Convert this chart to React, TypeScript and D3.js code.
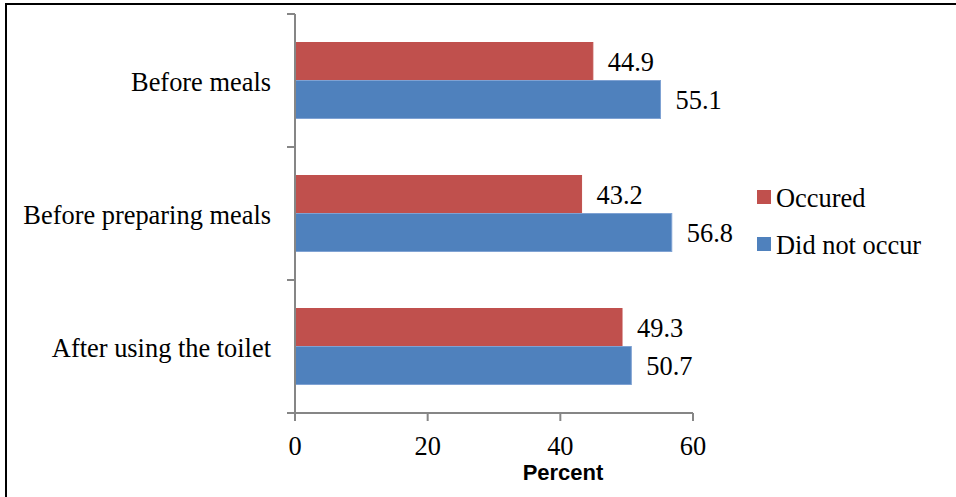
import React from "react";
import * as d3 from "d3";

const categories = ["Before meals", "Before preparing meals", "After using the toilet"];
const seriesNames = ["Occured", "Did not occur"];
const occured = [44.9, 43.2, 49.3];
const didNotOccur = [55.1, 56.8, 50.7];
const xTicks = [0, 20, 40, 60];
const colors = ["#C0504D", "#4F81BD"];
const strokes = ["#C0504D", "#7FA2D3"];

export default function App() {
  const W = 956, H = 497;
  const x = d3.scaleLinear().domain([0, 60]).range([295, 693]);
  const y = d3.scaleBand<string>().domain(categories).range([14, 413]).paddingInner(0).paddingOuter(0);
  const sub = d3.scaleBand<string>().domain(seriesNames).range([0, y.bandwidth()]).paddingInner(0).paddingOuter(0.75);
  const values = [occured, didNotOccur];
  const serif = "'Liberation Serif', 'Times New Roman', serif";
  const axisColor = "#868686";
  const fs = 26.4;
  const bandEdges = categories.map((c) => y(c) as number).concat([413]);

  return (
    <svg width={W} height={H} style={{ position: "fixed", left: 0, top: 0, background: "#fff" }}>
      <rect x={0} y={0} width={W} height={H} fill="#fff" />
      <rect x={6} y={4} width={W + 10} height={H + 10} fill="none" stroke="#000" strokeWidth={2} />
      {categories.map((c, i) =>
        seriesNames.map((s, j) => {
          const v = values[j][i];
          const by = (y(c) as number) + (sub(s) as number);
          const bh = sub.bandwidth();
          return (
            <g key={c + s}>
              <rect x={x(0)} y={by} width={x(v) - x(0)} height={bh} fill={colors[j]} stroke={strokes[j]} strokeWidth={1} />
              <text x={x(v) + 15} y={by + bh / 2 + 9} fontFamily={serif} fontSize={fs} fill="#000">
                {v.toFixed(1)}
              </text>
            </g>
          );
        })
      )}
      <line x1={x(0)} x2={x(0)} y1={14} y2={421} stroke={axisColor} strokeWidth={2} />
      {bandEdges.map((e, i) => (
        <line key={"yt" + i} x1={287} x2={x(0)} y1={e} y2={e} stroke={axisColor} strokeWidth={2} />
      ))}
      <line x1={287} x2={x(60)} y1={413} y2={413} stroke={axisColor} strokeWidth={2} />
      {xTicks.map((t) => (
        <g key={"xt" + t}>
          <line x1={x(t)} x2={x(t)} y1={413} y2={421} stroke={axisColor} strokeWidth={2} />
          <text x={x(t)} y={455} textAnchor="middle" fontFamily={serif} fontSize={fs} fill="#000">
            {t}
          </text>
        </g>
      ))}
      <text x={563} y={480} textAnchor="middle" fontFamily="'Liberation Sans', Arial, sans-serif" fontWeight="bold" fontSize={22} fill="#000">
        Percent
      </text>
      {categories.map((c) => (
        <text key={"cl" + c} x={271} y={(y(c) as number) + y.bandwidth() / 2 + 10} textAnchor="end" fontFamily={serif} fontSize={fs} fill="#000">
          {c}
        </text>
      ))}
      {seriesNames.map((s, j) => (
        <g key={"lg" + s}>
          <rect x={757} y={190 + j * 47} width={14} height={14} fill={colors[j]} />
          <text x={776} y={206.5 + j * 47} fontFamily={serif} fontSize={fs} fill="#000">
            {s}
          </text>
        </g>
      ))}
    </svg>
  );
}
